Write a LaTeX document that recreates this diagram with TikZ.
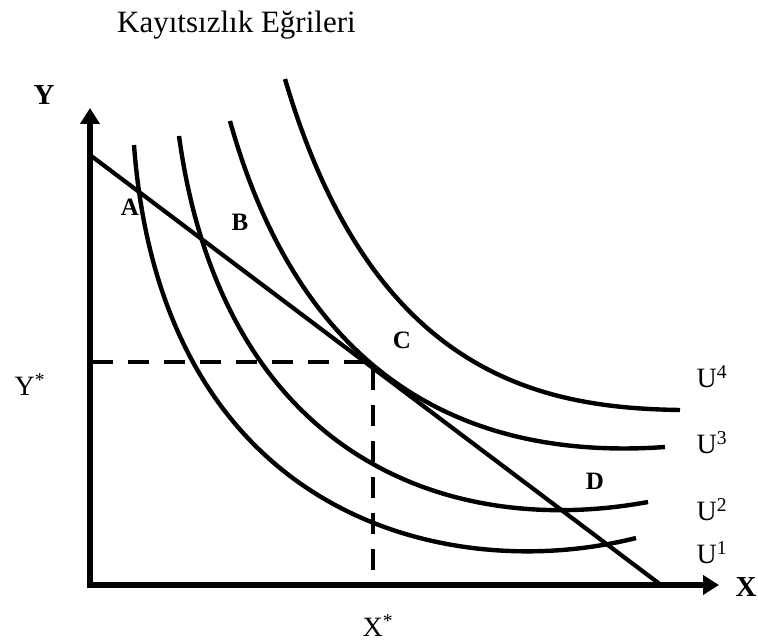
\documentclass[tikz,border=0pt]{standalone}
\usepackage{fontspec}
\setmainfont{Liberation Serif}
\usetikzlibrary{positioning,
                calc,
                arrows.meta}

\begin{document}
\begin{tikzpicture}[x=1pt,y=-1pt]

\tikzset{
axisline/.style={
line width=5.5pt,
-{Triangle[width=19pt,length=16pt]}
},
icurve/.style={
line width=4.4pt
},
budgetline/.style={
line width=4.2pt
},
guideline/.style={
line width=4.4pt,
dash pattern=on 21pt off 15pt
},
axislabel/.style={
font=\fontsize{29}{34}\selectfont\bfseries
},
pointlabel/.style={
font=\fontsize{25}{30}\selectfont\bfseries
},
curvelabel/.style={
font=\fontsize{28}{33}\selectfont
}
}

\useasboundingbox (0,0) rectangle (758,644);

%----------------------------------
% TITLE
%----------------------------------

\node[font=\fontsize{31}{36}\selectfont,anchor=base west,inner sep=0pt] (title) at (117,33) {Kayıtsızlık Eğrileri};

%----------------------------------
% AXES
%----------------------------------

\coordinate (origin) at (90,585);
\coordinate (ytip) at (90,108);
\coordinate (xtip) at (719,585);

\draw[axisline] ([yshift=2.75pt]origin) -- (ytip);
\draw[axisline] ([xshift=-2.75pt]origin) -- (xtip);

\node[axislabel] (ylabel) at (44,95) {Y};
\node[axislabel] (xlabel) at (746,587) {X};

%----------------------------------
% INDIFFERENCE CURVES
%----------------------------------

\draw[icurve] (134,145) .. controls (162,520) and (450,585) .. (636,538);
\draw[icurve] (179,136) .. controls (222,450) and (440,540) .. (648,502);
\draw[icurve] (230,121) .. controls (305,390) and (480,460) .. (665,447);
\draw[icurve] (285,79) .. controls (372,375) and (540,408) .. (680,410);

%----------------------------------
% BUDGET LINE AND OPTIMUM
%----------------------------------

\coordinate (bstart) at (90,155);
\coordinate (bend) at (661,585);
\draw[budgetline] (bstart) -- (bend);

\coordinate (optimum) at (373,362);
\coordinate (ystar) at (92,362);
\coordinate (xstar) at (373,580);
\draw[guideline] (ystar) -- (optimum) -- (xstar);

\node[curvelabel] (ystarlabel) at (30,385) {Y\textsuperscript{*}};
\node[curvelabel] (xstarlabel) at (378,626) {X\textsuperscript{*}};

%----------------------------------
% POINT LABELS
%----------------------------------

\node[pointlabel] (pA) at (130,207) {A};
\node[pointlabel] (pB) at (240,222) {B};
\node[pointlabel] (pC) at (402,340) {C};
\node[pointlabel] (pD) at (595,481) {D};

%----------------------------------
% CURVE LABELS
%----------------------------------

\node[curvelabel] (u4) at (712,377) {U\textsuperscript{4}};
\node[curvelabel] (u3) at (712,443) {U\textsuperscript{3}};
\node[curvelabel] (u2) at (712,510) {U\textsuperscript{2}};
\node[curvelabel] (u1) at (712,553) {U\textsuperscript{1}};

\end{tikzpicture}
\end{document}
